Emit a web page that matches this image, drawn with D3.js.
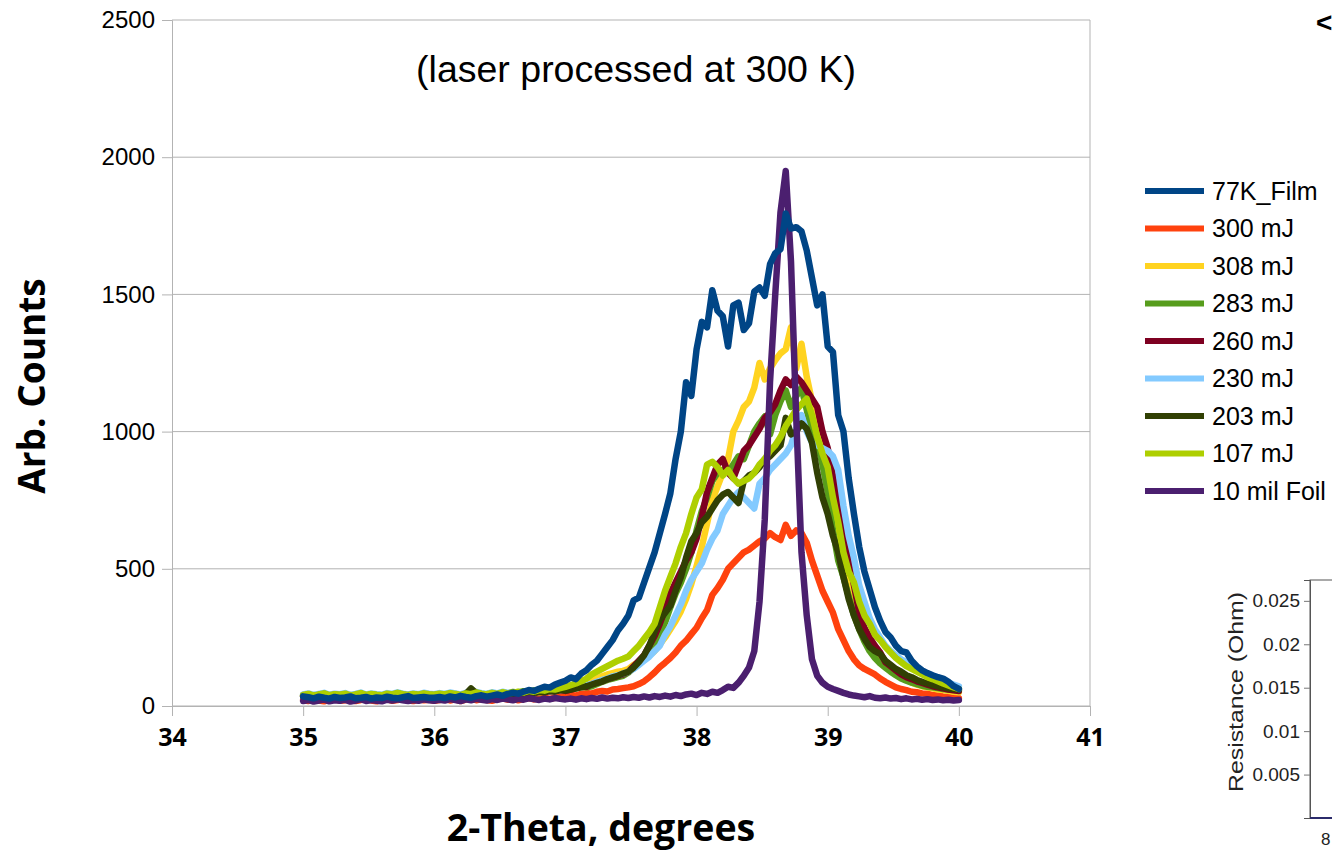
<!DOCTYPE html>
<html>
<head>
<meta charset="utf-8">
<script src="https://cdn.jsdelivr.net/npm/d3@7"></script>
<style>
  body { margin: 0; background: #fff; }
  svg { display: block; }
</style>
</head>
<body>
<svg id="chart" width="1332" height="852"></svg>
<script>
// 2-theta angles (degrees), 0.04 step, shared by every series
const angles = [
  35.00, 35.04, 35.08, 35.12, 35.16, 35.20, 35.24, 35.28, 35.32, 35.36, 35.40, 35.44, 35.48, 35.52, 35.56, 35.60, 35.64, 35.68, 35.72, 35.76, 35.80, 35.84, 35.88, 35.92, 35.96,
  36.00, 36.04, 36.08, 36.12, 36.16, 36.20, 36.24, 36.28, 36.32, 36.36, 36.40, 36.44, 36.48, 36.52, 36.56, 36.60, 36.64, 36.68, 36.72, 36.76, 36.80, 36.84, 36.88, 36.92, 36.96,
  37.00, 37.04, 37.08, 37.12, 37.16, 37.20, 37.24, 37.28, 37.32, 37.36, 37.40, 37.44, 37.48, 37.52, 37.56, 37.60, 37.64, 37.68, 37.72, 37.76, 37.80, 37.84, 37.88, 37.92, 37.96,
  38.00, 38.04, 38.08, 38.12, 38.16, 38.20, 38.24, 38.28, 38.32, 38.36, 38.40, 38.44, 38.48, 38.52, 38.56, 38.60, 38.64, 38.68, 38.72, 38.76, 38.80, 38.84, 38.88, 38.92, 38.96,
  39.00, 39.04, 39.08, 39.12, 39.16, 39.20, 39.24, 39.28, 39.32, 39.36, 39.40, 39.44, 39.48, 39.52, 39.56, 39.60, 39.64, 39.68, 39.72, 39.76, 39.80, 39.84, 39.88, 39.92, 39.96,
  40.00
];

const film77K = [
  35, 32, 28, 34, 30, 27, 33, 29, 31, 35, 28, 30, 33, 27, 31, 29, 34, 30, 28, 32, 36, 29, 31, 33, 30,
  30, 33, 29, 35, 31, 37, 33, 30, 36, 39, 34, 38, 42, 37, 44, 48, 45, 52, 58, 55, 63, 70, 67, 78, 85,
  92, 104, 98, 118, 130, 150, 165, 190, 215, 240, 275, 300, 330, 385, 395, 450, 505, 560, 630, 700, 775, 900, 1000, 1180, 1130,
  1300, 1400, 1380, 1515, 1440, 1420, 1310, 1460, 1470, 1370, 1395, 1510, 1525, 1495, 1610, 1650, 1665, 1795, 1740, 1745, 1730, 1660, 1560, 1460, 1500,
  1310, 1290, 1060, 1000, 830, 700, 580, 490, 425, 360, 310, 270, 250, 220, 200, 195, 165, 145, 130, 120, 112, 105, 100, 88, 72,
  62
];
const mj300 = [
  22, 18, 25, 20, 17, 23, 26, 19, 21, 24, 18, 22, 27, 20, 17, 23, 25, 19, 22, 26, 20, 18, 24, 21, 23,
  19, 22, 26, 20, 24, 18, 23, 27, 21, 25, 22, 19, 24, 28, 23, 26, 21, 25, 29, 24, 27, 31, 26, 30, 33,
  36, 40, 38, 44, 47, 45, 52, 55, 53, 60, 62, 65, 68, 72, 80, 90, 105, 122, 142, 158, 175, 195, 220, 238, 262,
  285, 320, 350, 405, 430, 460, 500, 520, 540, 560, 570, 585, 600, 610, 630, 615, 605, 660, 620, 640, 630, 595, 530, 475, 420,
  380, 340, 280, 240, 200, 170, 148, 135, 125, 115, 100, 88, 78, 68, 62, 58, 52, 50, 46, 45, 40, 38, 35, 33, 30,
  28
];
const mj308 = [
  38, 34, 40, 36, 33, 39, 42, 35, 37, 41, 34, 38, 36, 40, 33, 37, 42, 36, 39, 35, 38, 41, 34, 37, 40,
  36, 39, 35, 41, 38, 34, 40, 37, 43, 39, 36, 42, 38, 45, 41, 44, 40, 47, 45, 50, 48, 53, 57, 55, 62,
  66, 70, 75, 82, 88, 95, 100, 108, 115, 120, 125, 128, 135, 150, 160, 172, 185, 200, 225, 250, 280, 310, 345, 390, 445,
  510, 580, 665, 750, 800, 850, 900, 1000, 1040, 1090, 1110, 1160, 1250, 1190, 1230, 1260, 1285, 1300, 1380, 1230, 1320, 1200, 1110, 1020, 970,
  880, 780, 660, 530, 440, 370, 300, 265, 225, 200, 170, 145, 130, 115, 105, 95, 85, 78, 72, 68, 64, 60, 58, 55, 52,
  50
];
const mj283 = [
  36, 40, 33, 38, 42, 35, 39, 34, 41, 37, 33, 39, 36, 42, 38, 34, 40, 37, 35, 41, 38, 36, 42, 39, 35,
  38, 41, 36, 40, 44, 38, 42, 39, 45, 41, 43, 47, 44, 49, 46, 51, 48, 54, 52, 57, 55, 60, 58, 62, 60,
  62, 66, 64, 70, 68, 72, 80, 88, 95, 100, 105, 110, 122, 140, 155, 170, 195, 225, 260, 305, 360, 410, 450, 500, 560,
  640, 710, 760, 820, 850, 860, 850, 880, 910, 900, 950, 1000, 1030, 1055, 990, 1060, 1110, 1150, 1090, 1130, 1160, 1080, 1000, 960, 880,
  780, 640, 530, 470, 400, 330, 280, 235, 200, 175, 155, 140, 125, 112, 100, 92, 85, 80, 74, 70, 68, 65, 62, 60, 58,
  56
];
const mj260 = [
  34, 38, 32, 36, 40, 33, 37, 35, 39, 32, 36, 41, 34, 38, 35, 33, 39, 36, 42, 37, 34, 38, 35, 40, 37,
  35, 39, 36, 41, 38, 34, 40, 37, 43, 39, 42, 38, 44, 41, 46, 43, 48, 45, 50, 47, 52, 50, 55, 53, 58,
  55, 60, 66, 72, 70, 80, 85, 90, 98, 104, 110, 115, 125, 145, 165, 185, 220, 255, 300, 350, 410, 450, 490, 530, 560,
  610, 690, 780, 830, 880, 900, 850, 830, 880, 930, 950, 980, 1010, 1050, 1070, 1100, 1150, 1190, 1170, 1200, 1180, 1150, 1120, 1090, 1000,
  940, 840, 740, 640, 560, 440, 340, 285, 250, 220, 195, 160, 145, 130, 115, 105, 98, 90, 84, 78, 72, 68, 64, 60, 57,
  55
];
const mj230 = [
  42, 46, 40, 44, 48, 41, 45, 43, 47, 40, 44, 49, 42, 46, 43, 41, 47, 44, 50, 45, 42, 46, 43, 48, 45,
  43, 47, 44, 49, 46, 42, 48, 45, 51, 47, 44, 50, 46, 52, 48, 45, 51, 49, 54, 50, 56, 53, 58, 62, 60,
  64, 68, 72, 70, 76, 80, 88, 95, 100, 108, 112, 118, 125, 135, 150, 165, 180, 200, 220, 260, 290, 330, 370, 420, 460,
  490, 520, 570, 610, 640, 700, 730, 760, 780, 760, 740, 720, 810, 830, 860, 880, 900, 920, 950, 1010, 1060, 1000, 960, 950, 940,
  930, 910, 860, 730, 620, 540, 440, 380, 320, 280, 250, 220, 200, 185, 170, 160, 145, 135, 125, 118, 110, 105, 95, 85, 78,
  72
];
const mj203 = [
  38, 42, 36, 40, 44, 37, 41, 39, 43, 36, 40, 45, 38, 42, 39, 37, 43, 40, 46, 41, 38, 42, 39, 44, 41,
  39, 43, 40, 45, 42, 38, 44, 64, 47, 43, 40, 46, 42, 48, 44, 41, 47, 45, 50, 48, 52, 50, 55, 53, 58,
  56, 60, 64, 68, 72, 78, 84, 90, 98, 104, 110, 118, 125, 140, 160, 185, 220, 270, 315, 340, 365, 420, 470, 540, 600,
  630, 670, 690, 720, 750, 770, 780, 760, 740, 820, 840, 850, 870, 900, 910, 930, 950, 1050, 990, 1000, 1030, 1010, 960, 850, 760,
  700, 620, 560, 470, 390, 330, 280, 245, 215, 200, 190, 165, 150, 135, 125, 112, 105, 95, 88, 82, 76, 72, 68, 64, 62,
  60
];
const mj107 = [
  40, 44, 38, 42, 46, 39, 43, 41, 45, 38, 42, 47, 40, 44, 41, 39, 45, 42, 48, 43, 40, 44, 41, 46, 43,
  41, 45, 42, 47, 44, 40, 46, 43, 49, 45, 42, 48, 44, 50, 46, 48, 52, 49, 55, 52, 58, 56, 62, 60, 65,
  70, 76, 82, 90, 100, 115, 125, 135, 145, 155, 165, 172, 180, 200, 220, 245, 270, 300, 360, 420, 470, 520, 580, 630, 700,
  760, 790, 880, 890, 870, 840, 860, 830, 810, 820, 830, 850, 880, 900, 930, 950, 980, 1020, 1050, 1080, 1100, 1120, 1060, 980, 920,
  870, 760, 670, 560, 490, 450, 380, 330, 300, 260, 240, 215, 195, 175, 160, 145, 135, 125, 115, 105, 98, 90, 82, 75, 68,
  62
];
const foil10mil = [
  18, 22, 16, 20, 24, 17, 21, 19, 23, 16, 20, 25, 18, 22, 19, 17, 23, 20, 24, 21, 18, 22, 19, 24, 21,
  19, 23, 20, 25, 22, 18, 24, 21, 26, 23, 20, 25, 22, 27, 24, 21, 26, 23, 28, 25, 22, 27, 24, 29, 26,
  24, 27, 23, 28, 25, 29, 26, 31, 27, 30, 28, 32, 29, 33, 30, 35, 31, 36, 33, 38, 34, 40, 36, 42, 45,
  40, 48, 44, 52, 48, 58, 70, 66, 85, 110, 140, 200, 380, 680, 1180, 1500, 1800, 1950, 1620, 1050, 560, 330, 170, 110, 85,
  70, 62, 55, 48, 42, 38, 35, 32, 36, 30, 28, 31, 27, 29, 25, 28, 24, 26, 23, 25, 22, 24, 21, 23, 20,
  22
];

const seriesNames = ["77K_Film", "300 mJ", "308 mJ", "283 mJ", "260 mJ", "230 mJ", "203 mJ", "107 mJ", "10 mil Foil"];
const seriesValues = [film77K, mj300, mj308, mj283, mj260, mj230, mj203, mj107, foil10mil];
const seriesColors = ["#004586", "#ff420e", "#ffd320", "#579d1c", "#7e0021", "#83caff", "#314004", "#aecf00", "#4b1f6f"];
// the film trace sits on top of everything, the foil just under it
const drawOrder = [1, 2, 3, 4, 5, 6, 7, 8, 0];

const xTicks = [34, 35, 36, 37, 38, 39, 40, 41];
const yTicks = [0, 500, 1000, 1500, 2000, 2500];

// cropped neighbour chart on the right edge
const insetTicks = [0.005, 0.01, 0.015, 0.02, 0.025];
const insetTickLabels = ["0.005", "0.01", "0.015", "0.02", "0.025"];

const svg = d3.select("#chart");
const plot = { left: 172, right: 1090, top: 20, bottom: 706 };

const x = d3.scaleLinear().domain([34, 41]).range([plot.left, plot.right]);
const y = d3.scaleLinear().domain([0, 2500]).range([plot.bottom, plot.top]);

const gridColor = "#b3b3b3";

// horizontal grid
svg.append("g")
  .selectAll("line")
  .data(yTicks)
  .join("line")
  .attr("x1", plot.left).attr("x2", plot.right)
  .attr("y1", d => y(d)).attr("y2", d => y(d))
  .attr("stroke", gridColor).attr("stroke-width", 1);

// right edge of the plot wall
svg.append("line")
  .attr("x1", plot.right).attr("x2", plot.right)
  .attr("y1", plot.top).attr("y2", plot.bottom)
  .attr("stroke", gridColor);

const yAxis = svg.append("g")
  .attr("transform", `translate(${plot.left},0)`)
  .call(d3.axisLeft(y).tickValues(yTicks).tickSize(10).tickPadding(7).tickFormat(d3.format("d")));
yAxis.select(".domain").attr("stroke", gridColor);
yAxis.selectAll(".tick line").attr("stroke", gridColor);
yAxis.selectAll("text")
  .attr("font-family", "'Liberation Sans', Arial, sans-serif")
  .attr("font-size", 24).attr("fill", "#000");

const xAxis = svg.append("g")
  .attr("transform", `translate(0,${plot.bottom})`)
  .call(d3.axisBottom(x).tickValues(xTicks).tickSize(10).tickPadding(12).tickFormat(d3.format("d")));
xAxis.select(".domain").attr("stroke", gridColor);
xAxis.selectAll(".tick line").attr("stroke", gridColor);
xAxis.selectAll("text")
  .attr("font-family", "'Open Sans', sans-serif")
  .attr("font-weight", "bold")
  .attr("font-size", 25).attr("fill", "#000");

// traces
const line = d3.line()
  .x((d, i) => x(angles[i]))
  .y(d => y(d));

svg.append("g")
  .selectAll("path")
  .data(drawOrder)
  .join("path")
  .attr("d", k => line(seriesValues[k]))
  .attr("fill", "none")
  .attr("stroke", k => seriesColors[k])
  .attr("stroke-width", 6.5)
  .attr("stroke-linejoin", "round")
  .attr("stroke-linecap", "round");

// titles
svg.append("text")
  .attr("x", 636).attr("y", 82)
  .attr("text-anchor", "middle")
  .attr("font-family", "'Liberation Sans', Arial, sans-serif")
  .attr("font-size", 37.5)
  .text("(laser processed at 300 K)");

svg.append("text")
  .attr("x", 601).attr("y", 841)
  .attr("text-anchor", "middle")
  .attr("font-family", "'Open Sans', sans-serif")
  .attr("font-weight", "bold")
  .attr("font-size", 37.5)
  .text("2-Theta, degrees");

svg.append("text")
  .attr("transform", "translate(45,386) rotate(-90)")
  .attr("text-anchor", "middle")
  .attr("font-family", "'Open Sans', sans-serif")
  .attr("font-weight", "bold")
  .attr("font-size", 37)
  .text("Arb. Counts");

// legend
const legend = svg.append("g").attr("transform", "translate(1145,191)");
const item = legend.selectAll("g")
  .data(seriesNames)
  .join("g")
  .attr("transform", (d, i) => `translate(0,${i * 37.5})`);
item.append("line")
  .attr("x1", 0).attr("x2", 59)
  .attr("stroke", (d, i) => seriesColors[i])
  .attr("stroke-width", 6);
item.append("text")
  .attr("x", 67).attr("dy", "0.35em")
  .attr("font-family", "'Liberation Sans', Arial, sans-serif")
  .attr("font-size", 25)
  .text(d => d);

// partial glyph of a neighbouring title at the top right
svg.append("text")
  .attr("x", 1316).attr("y", 32)
  .attr("font-family", "'Liberation Sans', Arial, sans-serif")
  .attr("font-weight", "bold")
  .attr("font-size", 28)
  .text("<");

// cropped resistance chart
const inset = { left: 1310, top: 580, bottom: 818 };
const yr = d3.scaleLinear().domain([0, 0.0274]).range([inset.bottom, inset.top]);
svg.append("rect")
  .attr("x", inset.left).attr("y", inset.top)
  .attr("width", 40).attr("height", inset.bottom - inset.top)
  .attr("fill", "none").attr("stroke", "#555").attr("stroke-width", 1);
const rAxis = svg.append("g")
  .attr("transform", `translate(${inset.left},0)`)
  .call(d3.axisLeft(yr).tickValues(insetTicks).tickSize(6).tickPadding(4)
    .tickFormat((d, i) => insetTickLabels[i]));
rAxis.select(".domain").attr("stroke", "#555");
rAxis.selectAll(".tick line").attr("stroke", "#777");
rAxis.selectAll("text")
  .attr("font-family", "'Liberation Sans', Arial, sans-serif")
  .attr("font-size", 19).attr("fill", "#222");
svg.append("line")
  .attr("x1", inset.left).attr("x2", 1332)
  .attr("y1", inset.bottom).attr("y2", inset.bottom)
  .attr("stroke", "#2b2b6b").attr("stroke-width", 2);
svg.append("text")
  .attr("x", 1321).attr("y", 845)
  .attr("font-family", "'Liberation Sans', Arial, sans-serif")
  .attr("font-size", 17).attr("fill", "#222")
  .text("8");
svg.append("text")
  .attr("transform", "translate(1243,692) rotate(-90)")
  .attr("text-anchor", "middle")
  .attr("font-family", "'Liberation Sans', Arial, sans-serif")
  .attr("font-size", 21).attr("fill", "#222")
  .attr("textLength", 200).attr("lengthAdjust", "spacingAndGlyphs")
  .text("Resistance (Ohm)");
</script>
</body>
</html>
